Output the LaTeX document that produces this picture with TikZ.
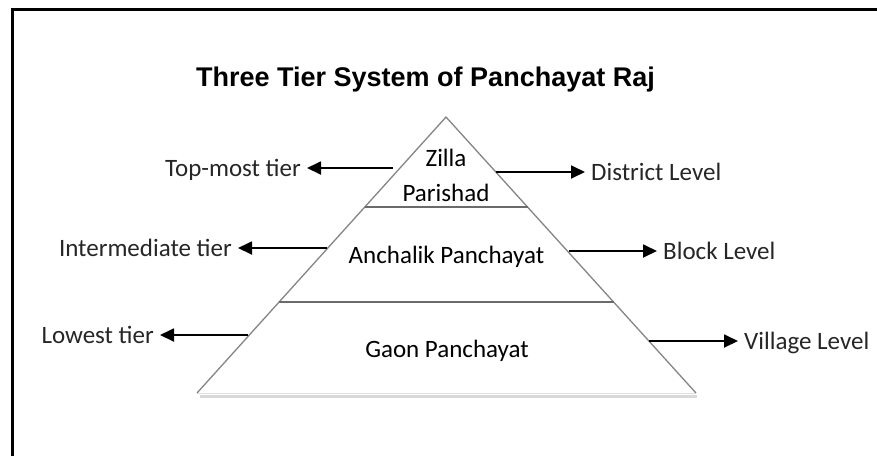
\documentclass[tikz,border=0pt]{standalone}
\usepackage{fontspec}
\setmainfont{Carlito}
\newfontfamily\titlefont{Liberation Sans}
\usetikzlibrary{arrows.meta,calc}
\definecolor{edgeGray}{rgb}{0.52,0.52,0.52}
\definecolor{lineGray}{rgb}{0.42,0.42,0.42}

\begin{document}
\begin{tikzpicture}[x=1pt, y=-1pt,
    lbl/.style={font=\fontsize{25}{30}\selectfont, text=black!85, text height=16pt, text depth=0pt, inner xsep=6pt},
    tier/.style={font=\fontsize{25}{30}\selectfont, inner sep=0pt, anchor=base},
    arr/.style={line width=1.8pt, -{Triangle[length=14pt,width=13pt]}}]

            \useasboundingbox (0,0) rectangle (877,456);

            % frame
            \draw[line width=3pt] (12,456) -- (12,9.5) -- (877,9.5);

            % title
            \node[font=\titlefont\bfseries\fontsize{27}{32}\selectfont, anchor=base, inner sep=0pt] (title) at (425.5,86) {Three Tier System of Panchayat Raj};

            % pyramid
            \coordinate (apex) at (446,117);
            \coordinate (bl) at (197,393);
            \coordinate (br) at (696,393);
            \draw[gray!30, line width=3pt] (200,396.5) -- (697,396.5);
            \fill[white] (bl) -- (apex) -- (br) -- cycle;
            \draw[gray!25, line width=1pt] (bl) -- (br);
            \draw[edgeGray, line width=1.3pt] (bl) -- (apex) -- (br);
            \draw[lineGray, line width=2pt] ($(apex)!0.326!(bl)$) -- ($(apex)!0.326!(br)$);
            \draw[lineGray, line width=2pt] ($(apex)!0.670!(bl)$) -- ($(apex)!0.670!(br)$);

            % tiers
            \node[tier] (zilla) at (446,166) {Zilla};
            \node[tier] (parishad) at (446,201.5) {Parishad};
            \node[tier] (anchalik) at (446.5,263) {Anchalik Panchayat};
            \node[tier] (gaon) at (447,357) {Gaon Panchayat};

            % left labels
            \node[lbl, anchor=east] (topmost) at (307,168) {Top-most tier};
            \node[lbl, anchor=east] (intermediate) at (238,248) {Intermediate tier};
            \node[lbl, anchor=east] (lowest) at (160,335) {Lowest tier};

            % right labels
            \node[lbl, anchor=west] (district) at (585,172) {District Level};
            \node[lbl, anchor=west] (block) at (657,251) {Block Level};
            \node[lbl, anchor=west] (village) at (738,341) {Village Level};

            % arrows
            \coordinate (topS) at (393,168);
            \coordinate (interS) at (327,248);
            \coordinate (lowS) at (248,335);
            \coordinate (distS) at (496,172);
            \coordinate (blockS) at (569,251);
            \coordinate (villS) at (649,341);
            \draw[arr] (topS) -- (topmost.east);
            \draw[arr] (interS) -- (intermediate.east);
            \draw[arr] (lowS) -- (lowest.east);
            \draw[arr] (distS) -- (district.west);
            \draw[arr] (blockS) -- (block.west);
            \draw[arr] (villS) -- (village.west);

\end{tikzpicture}
\end{document}
